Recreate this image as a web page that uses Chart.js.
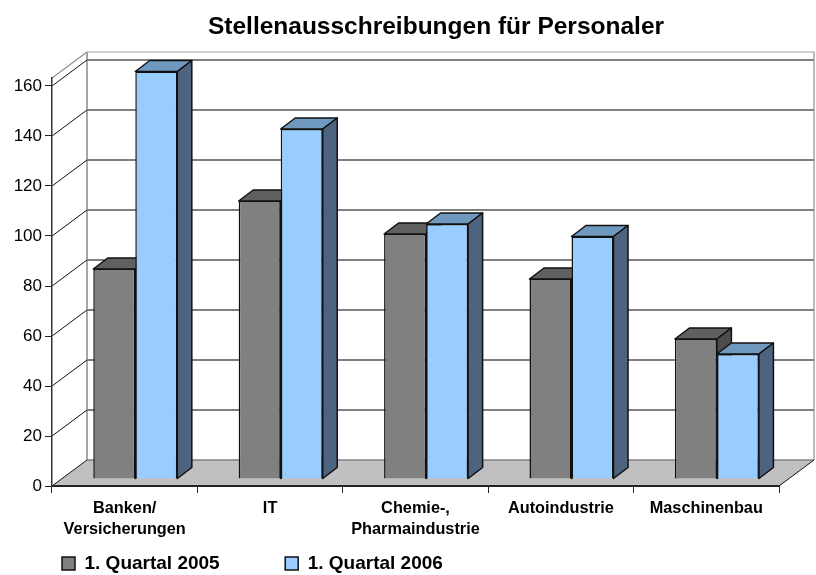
<!DOCTYPE html>
<html><head><meta charset="utf-8">
<style>html,body{margin:0;padding:0;background:#fff}canvas{display:block}</style>
<script src="https://cdn.jsdelivr.net/npm/chart.js@4"></script>
</head><body>
<div style="width:816px;height:575px"><canvas id="c" width="816" height="575"></canvas></div>
<script>
const categories = [['Banken/','Versicherungen'],'IT',['Chemie-,','Pharmaindustrie'],'Autoindustrie','Maschinenbau'];
const q2005 = [84, 111.2, 98, 80, 56];
const q2006 = [163, 140, 102, 97, 50];
const seriesNames = ['1. Quartal 2005','1. Quartal 2006'];
const yTicks = [0,20,40,60,80,100,120,140,160];
const FONT = '"Liberation Sans", Arial, sans-serif';
const WALL = {dx:35, dy:26};
const BAR3D = {dx:14.5, dy:11, sx:10.6, sy:-7};
const faces = [{top:'#606060', side:'#4d4d4d'},{top:'#7099c0', side:'#4d6380'}];

function line(ctx,x1,y1,x2,y2,color,w){ctx.beginPath();ctx.moveTo(x1,y1);ctx.lineTo(x2,y2);ctx.strokeStyle=color;ctx.lineWidth=w;ctx.stroke();}
function poly(ctx,pts,fill){ctx.beginPath();pts.forEach((p,i)=>i?ctx.lineTo(p[0],p[1]):ctx.moveTo(p[0],p[1]));ctx.closePath();ctx.fillStyle=fill;ctx.fill();ctx.strokeStyle='#111';ctx.lineWidth=1.5;ctx.lineJoin='round';ctx.stroke();}

const box3d = {
  id:'box3d',
  beforeLayout(chart){
    const lg=chart.legend;
    if(!lg._flat){
      const f=lg.fit;
      lg.fit=function(){f.call(this);this.height=0;};
      lg._flat=true;
    }
  },
  afterLayout(chart){
    chart.titleBlock.left = 56;
    chart.titleBlock.right = 816;
    chart.legend.left = -3.5;
    chart.legend.top = 488.5;
  },
  beforeDraw(chart){
    const {ctx,chartArea:a,scales:{y}} = chart;
    const y0 = y.getPixelForValue(0), bx=a.left+WALL.dx, rx=a.right+WALL.dx;
    const by0=y0-WALL.dy, topB=a.top-WALL.dy;
    ctx.save();
    ctx.beginPath();ctx.moveTo(a.left,y0);ctx.lineTo(bx,by0);ctx.lineTo(rx,by0);ctx.lineTo(a.right,y0);ctx.closePath();
    ctx.fillStyle='#c0c0c0';ctx.fill();
    line(ctx,bx,topB,rx,topB,'#a0a0a0',1.2);
    line(ctx,a.left,a.top,bx,topB,'#909090',1.2);
    line(ctx,bx,topB,bx,by0,'#909090',1.6);
    line(ctx,rx,topB,rx,by0,'#a0a0a0',1.4);
    line(ctx,bx,by0,rx,by0,'#808080',1.5);
    line(ctx,a.right,y0,rx,by0,'#111',1);
    yTicks.forEach(v=>{
      const p=y.getPixelForValue(v);
      line(ctx,a.left,p,bx,p-WALL.dy,'#111',1);
      if(v>0) line(ctx,bx,p-WALL.dy,rx,p-WALL.dy,'#808080',2);
    });
    ctx.restore();
  },
  beforeDatasetsDraw(chart){
    const ctx=chart.ctx;
    ctx.save();
    ctx.translate(BAR3D.sx,BAR3D.sy);
    chart.data.datasets.forEach((ds,i)=>{
      chart.getDatasetMeta(i).data.forEach(b=>{
        const l=b.x-b.width/2,r=b.x+b.width/2,t=b.y,bt=b.base,dx=BAR3D.dx,dy=BAR3D.dy;
        poly(ctx,[[l,t],[l+dx,t-dy],[r+dx,t-dy],[r,t]],faces[i].top);
        poly(ctx,[[r,t],[r+dx,t-dy],[r+dx,bt-dy],[r,bt]],faces[i].side);
      });
    });
  },
  afterDatasetsDraw(chart){ chart.ctx.restore(); }
};

new Chart(document.getElementById('c'),{
  type:'bar',
  data:{labels:categories,datasets:[
    {label:seriesNames[0],data:q2005,backgroundColor:'#808080',borderColor:'#111',borderWidth:1.5,clip:false},
    {label:seriesNames[1],data:q2006,backgroundColor:'#99ccff',borderColor:'#111',borderWidth:1.5,clip:false}
  ]},
  plugins:[box3d],
  options:{
    responsive:false,animation:false,
    categoryPercentage:0.578,barPercentage:1,
    layout:{padding:{top:0,right:37,left:0,bottom:0}},
    plugins:{
      title:{display:true,text:'Stellenausschreibungen für Personaler',color:'#000',
        font:{family:FONT,size:24.5,weight:'bold'},padding:{top:13,bottom:35.6}},
      legend:{position:'bottom',align:'start',
        labels:{color:'#000',font:{family:FONT,size:19,weight:'bold'},boxWidth:13,boxHeight:13,padding:65.5}},
      tooltip:{enabled:false}
    },
    scales:{
      x:{
        grid:{drawOnChartArea:false,color:'#222',tickLength:7},
        border:{color:'#222',width:2},
        ticks:{color:'#000',font:{family:FONT,size:16.3,weight:'bold',lineHeight:1.3},maxRotation:0,autoSkip:false,padding:5},
        afterFit(s){s.height=89;}
      },
      y:{
        min:0,max:163.2,
        afterBuildTicks(s){s.ticks=yTicks.map(v=>({value:v}));},
        grid:{drawOnChartArea:false,color:'#222',tickLength:7},
        border:{color:'#333',width:1.5},
        ticks:{color:'#000',font:{family:FONT,size:17},padding:3},
        afterFit(s){s.width=52;}
      }
    }
  }
});
</script>
</body></html>
